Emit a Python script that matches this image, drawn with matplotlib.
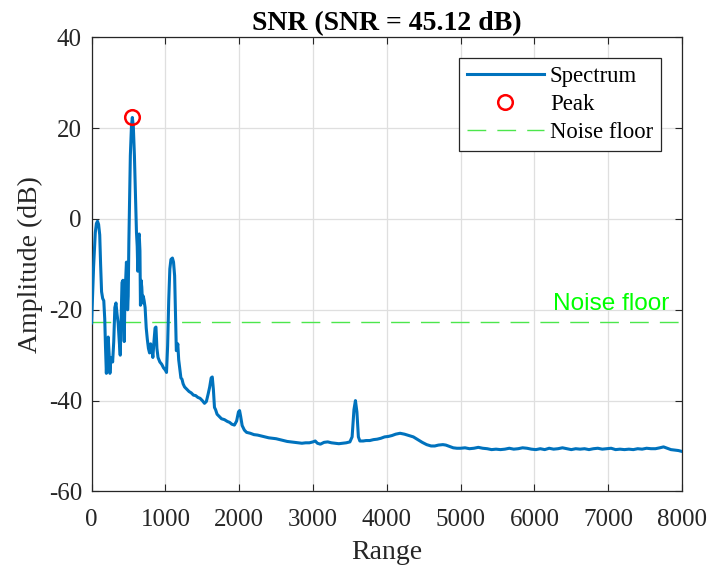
import matplotlib
matplotlib.use("Agg")
import matplotlib.pyplot as plt

plt.rcParams['font.family'] = ['Liberation Serif', 'DejaVu Serif']
plt.rcParams['axes.unicode_minus'] = False

# Spectrum samples: range bin and amplitude in dB
range_vals = [
    0, 27, 50, 65, 80, 95, 110, 122, 135, 150, 165, 178, 188, 200, 212, 225, 238, 248,
    260, 272, 285, 300, 315, 330, 345, 360, 375, 388, 400, 412, 425, 435, 442, 452,
    462, 472, 480, 488, 496, 505, 515, 525, 540, 552, 565, 580, 595, 608, 618, 626,
    634, 645, 655, 662, 670, 680, 690, 700, 712, 725, 740, 755, 770, 785, 800, 815,
    830, 845, 860, 872, 885, 900, 925, 950, 975, 1000, 1015, 1030, 1045, 1060, 1075,
    1095, 1110, 1125, 1138, 1148, 1158, 1168, 1180, 1195, 1210, 1225, 1240, 1260,
    1290, 1320, 1350, 1380, 1410, 1440, 1470, 1500, 1530, 1555, 1580, 1600, 1620,
    1635, 1650, 1665, 1680, 1700, 1730, 1760, 1800, 1840, 1870, 1900, 1935, 1965,
    1990, 2005, 2020, 2040, 2070, 2100, 2150, 2200, 2250, 2300, 2350, 2400, 2450,
    2500, 2550, 2600, 2650, 2700, 2750, 2800, 2850, 2900, 2950, 3000, 3030, 3060,
    3100, 3150, 3200, 3250, 3300, 3350, 3400, 3450, 3500, 3530, 3555, 3575, 3595,
    3615, 3635, 3680, 3720, 3770, 3820, 3870, 3920, 3970, 4020, 4070, 4120, 4180,
    4240, 4300, 4360, 4420, 4480, 4540, 4600, 4650, 4700, 4760, 4800, 4850, 4900,
    4950, 5000, 5060, 5120, 5180, 5240, 5300, 5360, 5420, 5480, 5540, 5600, 5660,
    5720, 5780, 5840, 5900, 5960, 6020, 6080, 6140, 6200, 6260, 6320, 6380, 6440,
    6500, 6560, 6620, 6680, 6740, 6800, 6860, 6920, 6980, 7040, 7100, 7160, 7220,
    7280, 7340, 7400, 7460, 7520, 7580, 7640, 7700, 7750, 7800, 7850, 7900, 7950,
    8000,
]
amplitude_db = [
    -22.9, -10.5, -3.0, -1.0, -0.5, -1.2, -3.5, -10.0, -16.0, -17.5, -18.0, -22.0,
    -28.0, -34.0, -28.5, -26.0, -30.0, -34.0, -31.0, -30.5, -31.5, -27.0, -19.5,
    -18.5, -21.0, -23.0, -27.0, -30.0, -22.0, -14.0, -13.5, -20.0, -27.0, -17.0,
    -13.0, -9.5, -12.0, -20.0, -17.0, -5.0, 5.0, 14.0, 20.5, 22.36, 20.5, 14.0, 5.0,
    -3.0, -6.0, -11.5, -4.0, -3.3, -7.0, -19.0, -13.5, -15.0, -18.5, -17.0, -18.0,
    -19.5, -24.0, -26.5, -28.5, -29.5, -27.5, -28.5, -30.5, -27.0, -24.0, -23.8,
    -28.5, -30.5, -31.5, -32.0, -32.8, -33.3, -33.8, -28.0, -18.0, -11.0, -8.9,
    -8.6, -9.5, -12.5, -22.0, -29.0, -28.5, -27.5, -31.0, -33.0, -35.0, -35.3,
    -36.3, -37.0, -37.5, -38.0, -38.3, -38.8, -38.9, -39.3, -39.5, -40.0, -40.6,
    -40.2, -38.5, -37.0, -35.0, -34.8, -37.5, -41.5, -42.0, -43.0, -43.5, -44.0,
    -44.2, -44.6, -44.8, -45.2, -45.4, -44.5, -42.5, -42.2, -43.5, -45.5, -46.5,
    -47.0, -47.2, -47.5, -47.6, -47.8, -48.0, -48.2, -48.3, -48.4, -48.6, -48.8,
    -49.0, -49.1, -49.2, -49.3, -49.4, -49.3, -49.3, -49.1, -48.9, -49.4, -49.6,
    -49.2, -49.1, -49.3, -49.4, -49.5, -49.4, -49.3, -49.1, -48.0, -42.0, -40.0,
    -42.5, -48.0, -48.9, -48.9, -48.8, -48.8, -48.6, -48.5, -48.3, -48.0, -47.9,
    -47.7, -47.4, -47.2, -47.4, -47.7, -48.0, -48.6, -49.2, -49.7, -50.0, -50.0,
    -49.8, -49.7, -49.8, -50.1, -50.4, -50.5, -50.5, -50.4, -50.6, -50.5, -50.3,
    -50.5, -50.6, -50.8, -50.7, -50.8, -50.7, -50.5, -50.7, -50.6, -50.4, -50.5,
    -50.7, -50.8, -50.6, -50.8, -50.5, -50.7, -50.6, -50.4, -50.6, -50.8, -50.6,
    -50.7, -50.6, -50.8, -50.6, -50.5, -50.7, -50.6, -50.5, -50.8, -50.7, -50.8,
    -50.7, -50.8, -50.6, -50.7, -50.5, -50.6, -50.6, -50.4, -50.2, -50.5, -50.8,
    -50.9, -51.0, -51.2,
]

peak_range = 552
peak_db = 22.36
noise_floor_db = -22.76
snr_db = 45.12

x_ticks = [0, 1000, 2000, 3000, 4000, 5000, 6000, 7000, 8000]
y_ticks = [-60, -40, -20, 0, 20, 40]

axis_color = '#262626'

fig = plt.figure(figsize=(7.09, 5.65), dpi=100)
ax = fig.add_axes([0.1292, 0.1303, 0.8327, 0.8035])

ax.plot(range_vals, amplitude_db, color='#0072BD', linewidth=2.2, label='Spectrum', zorder=3)
ax.plot([peak_range], [peak_db], linestyle='none', marker='o', markersize=10.5,
        markerfacecolor='none', markeredgecolor='#FF0000', markeredgewidth=1.8,
        label='Peak', zorder=4)
ax.plot([0, 8000], [noise_floor_db, noise_floor_db], color='#4CE64C', linewidth=1.0,
        dashes=(13.5, 8), label='Noise floor', zorder=2)

ax.text(6250, noise_floor_db + 4, 'Noise floor', color='#00FF00', fontsize=17.6,
        family=['Liberation Sans', 'DejaVu Sans'], ha='left', va='center')

ax.set_xlim(0, 8000)
ax.set_ylim(-60, 40)
ax.set_xticks(x_ticks)
ax.set_yticks(y_ticks)
ax.grid(True, color='#DFDFDF', linewidth=0.9)
ax.set_axisbelow(True)

ax.tick_params(direction='in', length=5, width=0.8, top=True, right=True,
               labelsize=18, colors=axis_color)
ax.tick_params(axis='x', pad=13)
ax.tick_params(axis='y', pad=7)
for sp in ax.spines.values():
    sp.set_color(axis_color)
    sp.set_linewidth(0.9)

ax.set_xlabel('Range', fontsize=20, color=axis_color, labelpad=6)
ax.set_ylabel('Amplitude (dB)', fontsize=20, color=axis_color, labelpad=4)
ax.set_title(f'SNR (SNR = {snr_db:.2f} dB)', fontsize=20, fontweight='bold', pad=5)

leg = ax.legend(loc='upper right', bbox_to_anchor=(0.9644, 0.954), borderaxespad=0,
                fontsize=16.4, fancybox=False, framealpha=1, edgecolor=axis_color,
                handlelength=3.4, handletextpad=0.25, labelspacing=0.3, borderpad=0.35)
leg.get_frame().set_linewidth(0.9)

fig.savefig('out.png', dpi=100)
